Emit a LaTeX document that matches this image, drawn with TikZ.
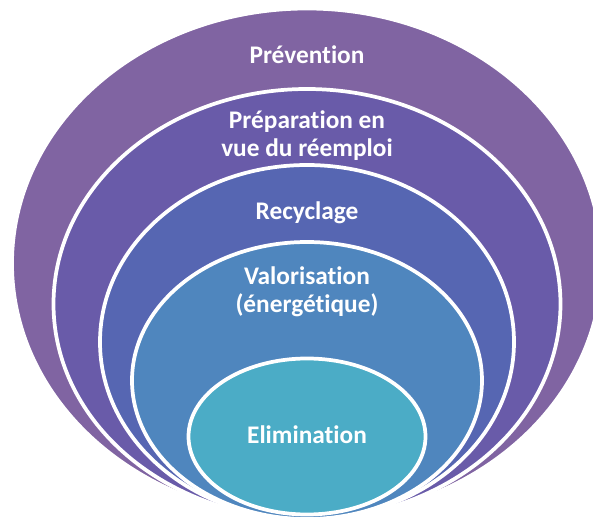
\documentclass[tikz,border=0pt]{standalone}
\usepackage{fontspec}
\setmainfont[Ligatures=CommonOff]{Carlito}
\usepackage{tikz}
\usetikzlibrary{shapes}
\definecolor{level0}{HTML}{8064A2}
\definecolor{level1}{HTML}{695BA9}
\definecolor{level2}{HTML}{5666B2}
\definecolor{level3}{HTML}{4F86BE}
\definecolor{level4}{HTML}{4BACC6}
\tikzstyle{level} = [ellipse, inner sep = 0, draw = white, line width = 2.8pt]
\tikzstyle{level text} = [text = white, font = \bfseries\fontsize{19}{21.5}\selectfont, align = center, anchor = base, inner sep = 0]
\tikzstyle{target picture} = [x = .75pt, y = -.75pt]
\begin{document}
\begin{tikzpicture}[target picture]
    \useasboundingbox (0, 0) rectangle (593, 520);
    \clip (0, 0) rectangle (593, 520);

    % nested levels, outermost first, all sitting on the same bottom
    \foreach \i/\cy/\rx/\ry in {0/263.5/295/255, 1/304/253.5/215, 2/342/207/177, 3/380.5/175/138.5, 4/436.5/118.5/78}
    {
        \node [level, fill = level\i,
               minimum width = {1.5pt * \rx},
               minimum height = {1.5pt * \ry}] (level_\i) at (307, \cy) {};
    }

    % base of a two-line text is its last line
    \node [level text] (prevention)   at (307,  64) {Prévention};
    \node [level text] (preparation)  at (307, 157) {Préparation en\\vue du réemploi};
    \node [level text] (recyclage)    at (307, 220) {Recyclage};
    \node [level text] (valorisation) at (307, 313) {Valorisation\\(énergétique)};
    \node [level text] (elimination)  at (307, 444) {Elimination};
\end{tikzpicture}
\end{document}
